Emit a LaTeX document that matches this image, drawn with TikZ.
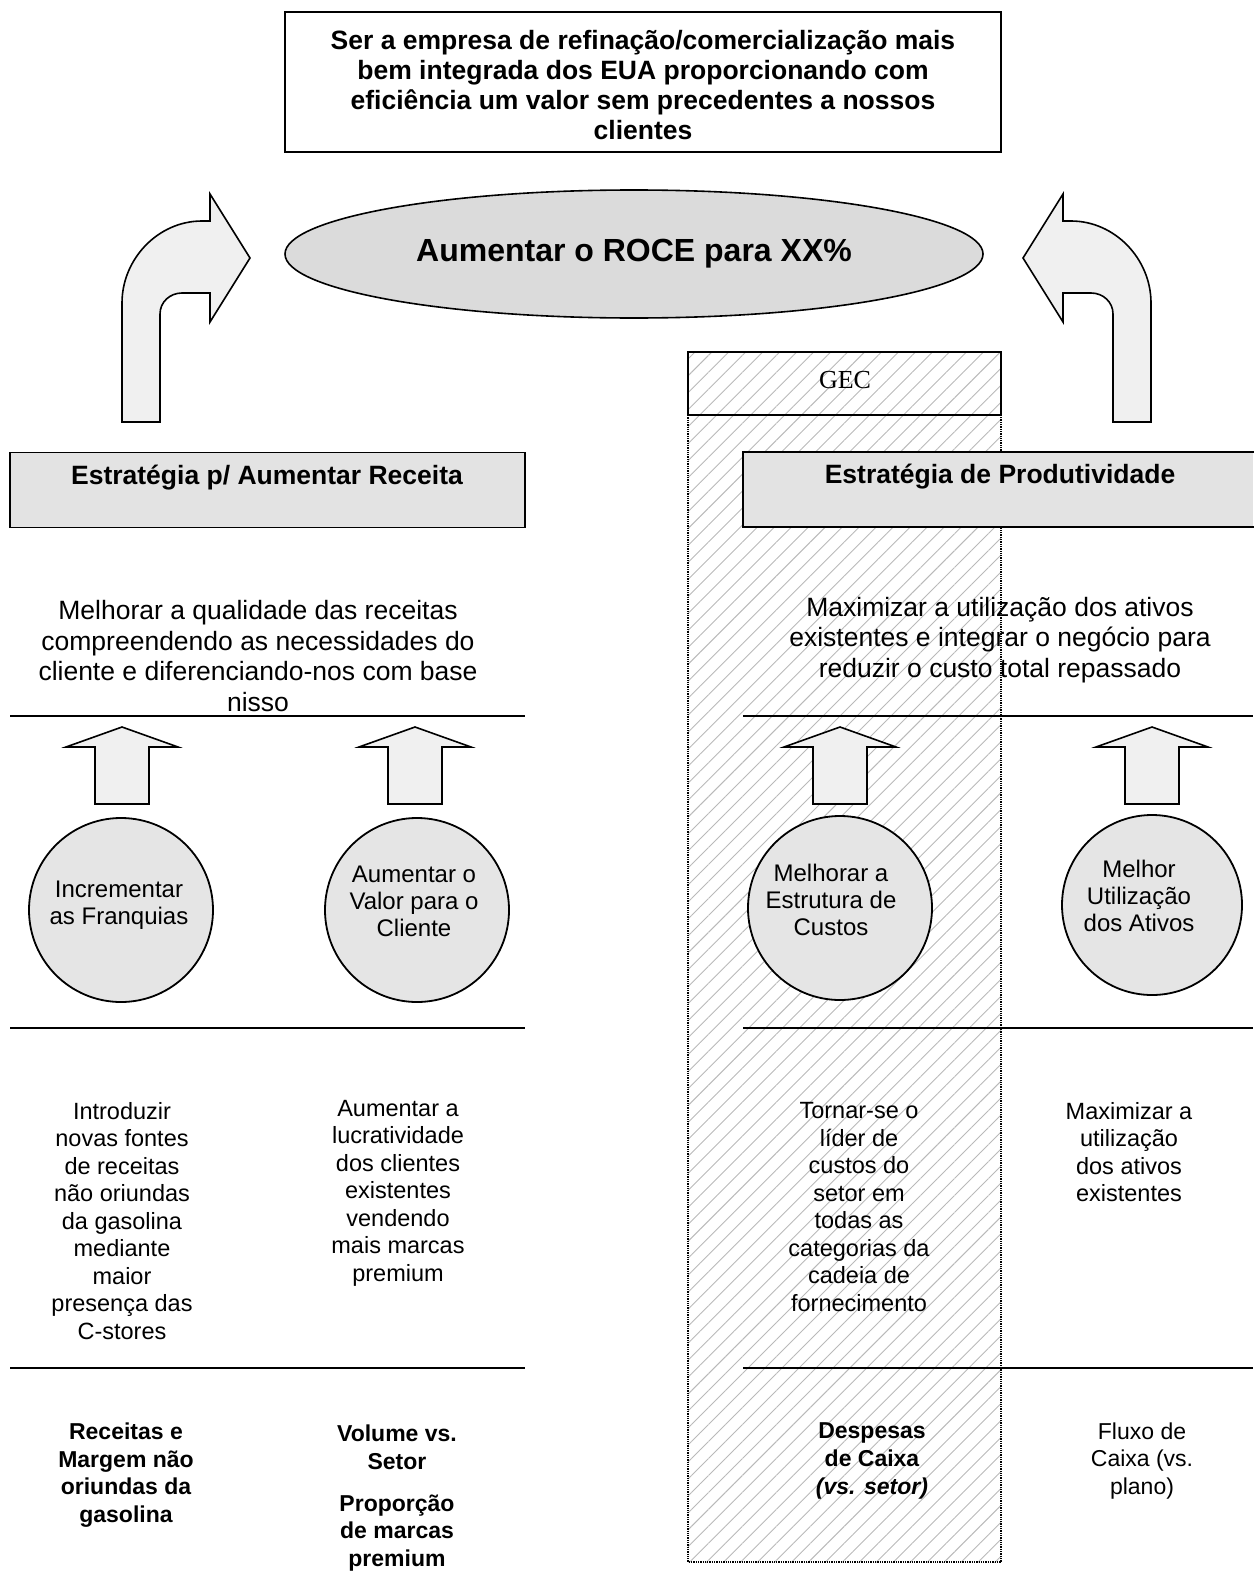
\documentclass[tikz,border=0pt]{standalone}
\usepackage{fontspec}
\setmainfont{Liberation Sans}
\newfontfamily\gecfont{Liberation Serif}
\usetikzlibrary{patterns.meta,shapes.geometric}

\begin{document}
\begin{tikzpicture}[x=1pt,y=-1pt,
  frame/.style={draw=black, line width=1.6pt},
  banner/.style={frame, fill=gray!22},
  rule/.style={line width=1.5pt},
  bigarrow/.style={draw=black, line width=1.6pt, fill=gray!12, line join=miter},
  disc/.style={circle, draw=black, line width=1.8pt, fill=gray!20, minimum size=184pt, inner sep=0pt},
  txt/.style={align=center, inner sep=0pt},
  headtxt/.style={txt, font=\bfseries\fontsize{26.5}{30}\selectfont},
  paratxt/.style={txt, font=\fontsize{26.5}{30.5}\selectfont},
  disctxt/.style={txt, font=\fontsize{24}{27}\selectfont},
  listtxt/.style={txt, font=\fontsize{23.5}{27.5}\selectfont},
  kpibold/.style={txt, font=\bfseries\fontsize{23}{27.8}\selectfont},
  kpiplain/.style={txt, font=\fontsize{23}{27.8}\selectfont},
  blockup/.pic={\path[bigarrow] (-27,77) -- (-27,20) -- (-56,20) -- (0,0) -- (56,20) -- (27,20) -- (27,77) -- cycle;}
]
\useasboundingbox (0,0) rectangle (1253,1573);

% GEC column, hatched, with solid header and dotted sides
\fill[pattern={Lines[angle=45,distance=12pt,line width=0.9pt]}, pattern color=gray!55]
  (688,352) rectangle (1001,1562);
\draw[line width=1.3pt, densely dotted] (688,415) -- (688,1562) -- (1001,1562) -- (1001,415);
\node[frame, minimum width=313pt, minimum height=63pt, inner sep=0pt] (gecbox) at (844.5,383.5) {};
\node[txt, font=\gecfont\fontsize{26}{28}\selectfont] (gec) at (845,380) {GEC};

% mission statement
\node[frame, minimum width=716pt, minimum height=140pt, inner sep=0pt] (missionbox) at (643,82) {};
\node[headtxt] (mission) at (643,85) {Ser a empresa de refinação/comercialização mais\\
  bem integrada dos EUA proporcionando com\\
  eficiência um valor sem precedentes a nossos\\ clientes};

% ROCE target
\node[ellipse, draw=black, line width=1.6pt, fill=gray!28, minimum width=698pt, minimum height=128pt,
  inner sep=0pt, font=\bfseries\fontsize{32}{36}\selectfont] (roce) at (634,254) {Aumentar o ROCE para XX\%};

% curved arrows feeding the target
\path[bigarrow] (122,422) -- (122,303) .. controls (122,259) and (158,221) .. (202,221) -- (210,221)
  -- (210,194) -- (250,258) -- (210,322) -- (210,293) -- (182,293)
  .. controls (170,293) and (160,302) .. (160,314) -- (160,422) -- cycle;
\path[bigarrow] (1151,422) -- (1151,303) .. controls (1151,259) and (1115,221) .. (1071,221) -- (1063,221)
  -- (1063,194) -- (1023,258) -- (1063,322) -- (1063,293) -- (1091,293)
  .. controls (1103,293) and (1113,302) .. (1113,314) -- (1113,422) -- cycle;

% strategy banners
\node[banner, minimum width=515pt, minimum height=75pt, inner sep=0pt] (leftbanner) at (267.5,490) {};
\node[headtxt] (lefthead) at (267,478) {Estratégia p/ Aumentar Receita};
\fill[gray!22] (743,452) rectangle (1253,527);
\draw[line width=1.6pt] (1256,452) -- (743,452) -- (743,527) -- (1256,527);
\coordinate (rightbanner) at (998,490);
\node[headtxt] (righthead) at (1000,477) {Estratégia de Produtividade};

% strategy statements
\begin{scope}
  \clip (0,0) rectangle (1253,715);
  \node[paratxt] (leftpara) at (258,656) {Melhorar a qualidade das receitas\\
    compreendendo as necessidades do\\ cliente e diferenciando-nos com base\\ nisso};
\end{scope}
\node[paratxt] (rightpara) at (1000,640) {Maximizar a utilização dos ativos\\
  existentes e integrar o negócio para\\ reduzir o custo total repassado};

% horizontal rules
\draw[rule] (10,716) -- (525,716);
\draw[rule] (743,716) -- (1253,716);
\draw[rule] (10,1028) -- (525,1028);
\draw[rule] (743,1028) -- (1253,1028);
\draw[rule] (10,1368) -- (525,1368);
\draw[rule] (743,1368) -- (1253,1368);

% up arrows
\pic (upA) at (122,727) {blockup};
\pic (upB) at (415,727) {blockup};
\pic (upC) at (840,727) {blockup};
\pic (upD) at (1152,727) {blockup};

% themes
\node[disc] (franq) at (121,910) {};
\node[disctxt] (franqtxt) at (119,905) {Incrementar\\ as Franquias};
\node[disc] (valor) at (417,910) {};
\node[disctxt] (valortxt) at (414,901) {Aumentar o\\ Valor para o\\ Cliente};
\node[disc] (custos) at (840,908) {};
\node[disctxt] (custostxt) at (831,900) {Melhorar a\\ Estrutura de\\ Custos};
\node[disc, minimum size=180pt] (ativos) at (1152,905) {};
\node[disctxt] (ativostxt) at (1139,896) {Melhor\\ Utilização\\ dos Ativos};

% objectives
\node[listtxt] (obj1) at (122,1221) {Introduzir\\ novas fontes\\ de receitas\\ não oriundas\\ da gasolina\\ mediante\\ maior\\ presença das\\ C-stores};
\node[listtxt] (obj2) at (398,1193) {Aumentar a\\ lucratividade\\ dos clientes\\ existentes\\ vendendo\\ mais marcas\\ premium};
\node[listtxt] (obj3) at (859,1207) {Tornar-se o\\ líder de\\ custos do\\ setor em\\ todas as\\ categorias da\\ cadeia de\\ fornecimento};
\node[listtxt] (obj4) at (1129,1152) {Maximizar a\\ utilização\\ dos ativos\\ existentes};

% measures
\node[kpibold] (kpi1) at (126,1475) {Receitas e\\ Margem não\\ oriundas da\\ gasolina};
\node[kpibold] (kpi2a) at (397,1447) {Volume vs.\\ Setor};
\node[kpibold] (kpi2b) at (397,1533) {Proporção\\ de marcas\\ premium};
\node[kpibold] (kpi3) at (872,1461) {Despesas\\ de Caixa\\ \itshape(vs. setor)};
\node[kpiplain] (kpi4) at (1142,1461) {Fluxo de\\ Caixa (vs.\\ plano)};
\end{tikzpicture}
\end{document}
